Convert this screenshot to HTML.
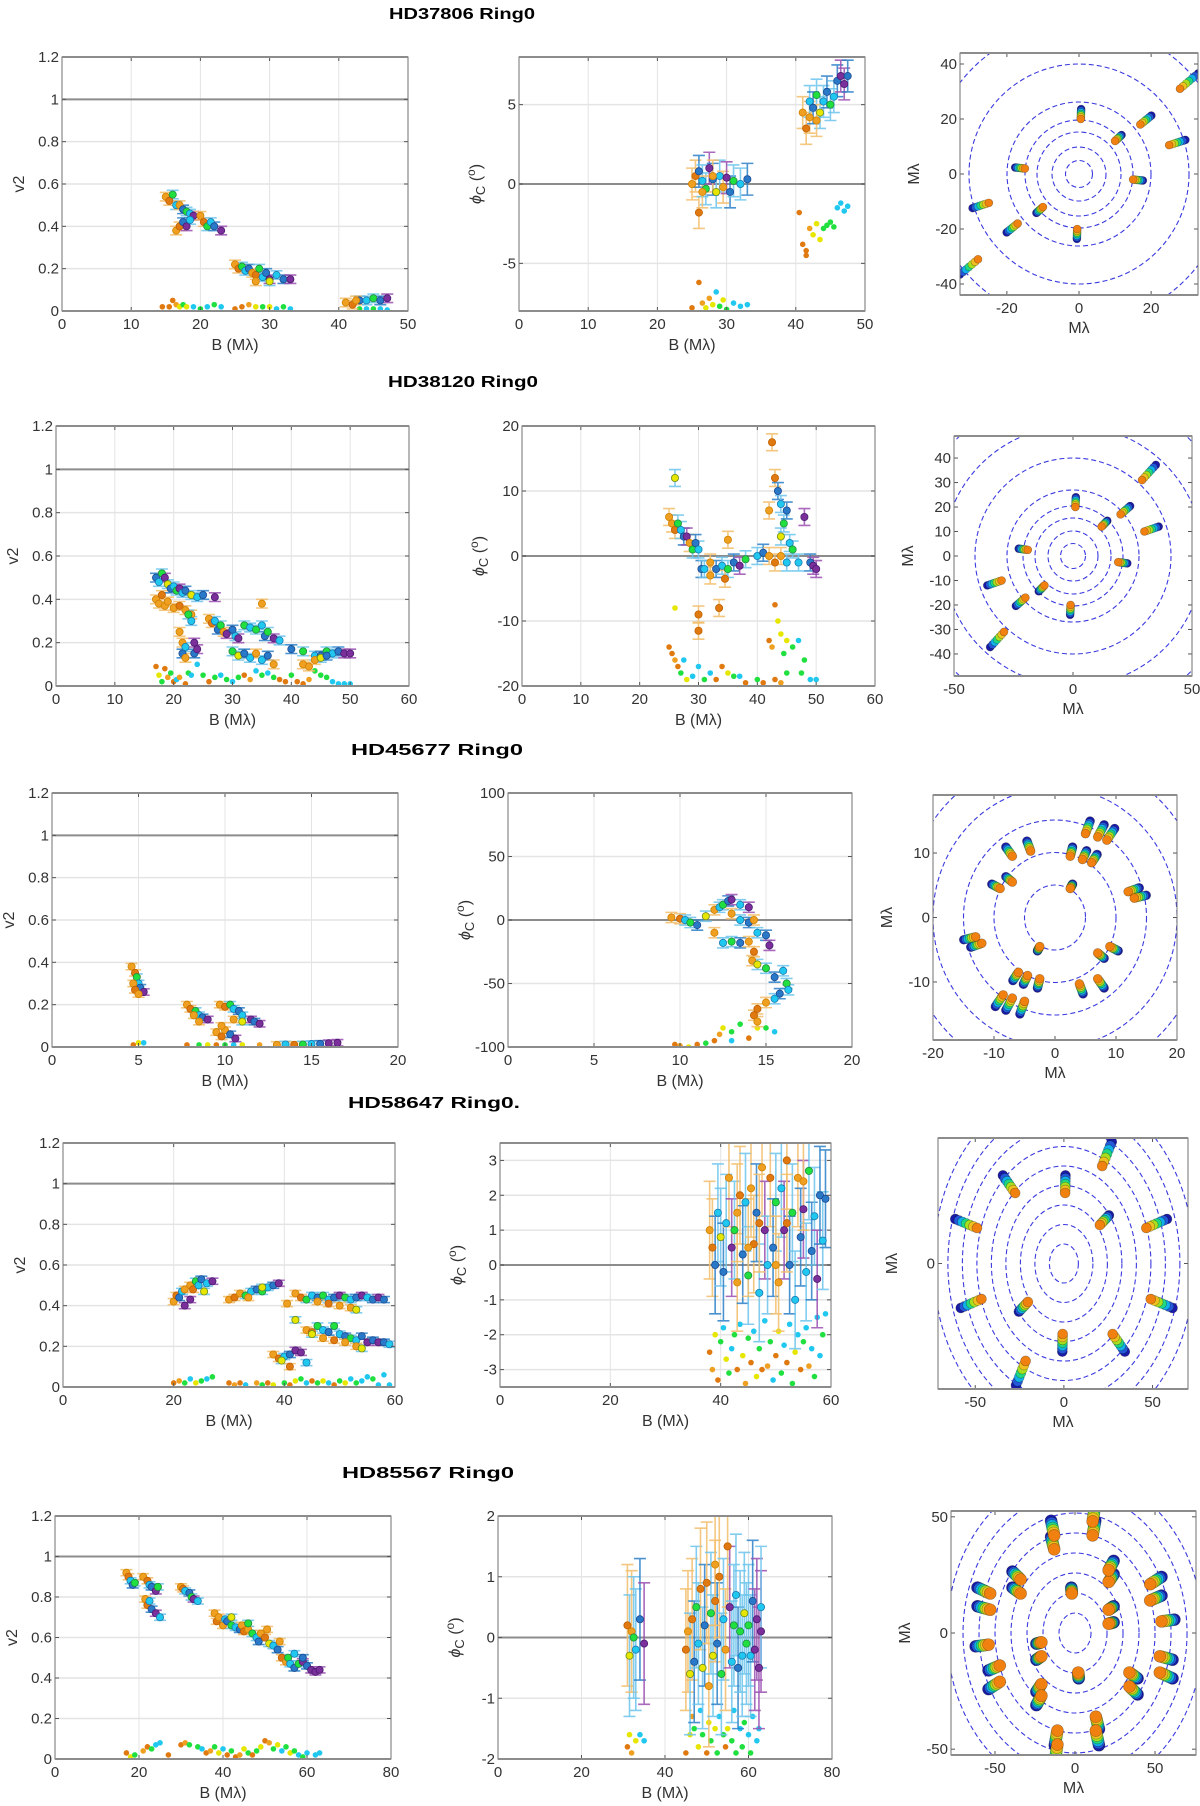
<!DOCTYPE html>
<html><head><meta charset="utf-8"><title>Interferometry panels</title>
<style>
html,body{margin:0;padding:0;background:#fff;}
svg{display:block;font-family:"Liberation Sans",sans-serif;}
</style></head>
<body>
<svg id="fig" width="1200" height="1806" viewBox="0 0 1200 1806" xmlns="http://www.w3.org/2000/svg"></svg>
<script>
// ---------------- DATA ----------------
// Row 1: HD37806
const r1vB=[15,15.5,16,16.5,17,17.5,18,18.5,19,16.5,17,17.5,18,18.5,20,20.5,21,21.5,22,23,25,25.5,26,26.5,27,27.5,28,28.5,29,29.5,30,31,32,33,28,30,41,42,43,44,45,46,47,42.5];
const r1vY=[.54,.52,.55,.5,.5,.48,.47,.46,.45,.38,.4,.42,.4,.43,.45,.42,.4,.42,.4,.38,.22,.2,.21,.19,.2,.18,.17,.2,.16,.18,.15,.17,.15,.15,.14,.14,.04,.03,.05,.05,.06,.05,.06,.05];
const r1vC=[1,0,3,4,1,5,3,4,6,1,0,5,6,4,1,0,3,4,5,6,1,0,3,4,5,1,0,3,4,5,6,4,5,6,1,2,1,0,5,4,3,5,6,1];
const r1vdB=[14.5,15.5,16,16.5,17,17.5,18,19,20,21,22,23,25,26,27,28,29,30,31,32,33,43,44,45,46,47];
const r1vdY=[.02,.02,.05,.03,.02,.03,.02,.02,.01,.02,.03,.02,.01,.02,.03,.02,.02,.02,.01,.02,.01,.01,.01,.01,.01,.005];
const r1vdC=[0,0,0,1,2,3,2,4,3,4,3,4,0,0,1,2,3,2,4,3,4,3,4,3,4,4];
const r1cB=[25,25.5,26,26,26.5,27,27.5,28,28.5,29,29.5,30,30.5,31,32,33,26.5,28,41,41.5,42,42,42.5,43,43.5,44,44.5,45,45.5,46,46.5,47,47.5,43];
const r1cY=[0,.5,-1.8,.8,.2,-.3,1,.3,-.5,.5,-.2,.4,-.5,.2,0,.3,-.5,.5,4.5,3.5,4.2,5.2,4.8,5.6,4.5,5.2,5.8,5,5.5,6.5,6.8,6.3,6.8,4];
const r1cC=[1,0,0,5,4,3,6,5,2,4,1,6,5,3,4,5,1,1,1,0,1,4,5,3,2,4,5,3,4,5,6,6,5,1];
const r1cdB=[40.5,41,41.5,41.5,42,42.5,43,43.5,44,44.5,45,45.5,46,46.5,47,47.5,25,26,26.5,27,27.5,28,28.5,29,29.5,30,31,32,33];
const r1cdY=[-1.8,-3.8,-4.2,-4.5,-2.8,-3.2,-2.5,-3.5,-2.8,-2.6,-2.4,-2.7,-1.5,-1.2,-1.7,-1.4,-7.8,-6.2,-7.5,-7.8,-7.2,-7.6,-6.8,-7.7,-7.3,-7.9,-7.5,-7.7,-7.6];
const r1cdC=[0,0,0,0,1,2,2,2,3,3,3,3,4,4,4,4,0,0,1,2,1,2,4,3,2,3,4,4,4];
const r1uU=[28,0.5,17,10,25,15];
const r1uV=[31,20,18,12,10.5,-2];

// Row 2: HD38120
const r2vB=[17,17.5,18,18.5,19,19.5,20,20.5,21,21.5,22,23,24,25,27,17,17.5,18,18.5,19,20,21,22,23,21,21.5,21.5,22,22,23.5,23.5,24,23,22.5,26,26.5,27,27.5,28,28.5,29,30,30.5,31,32,33,34,35,35.5,36,37,38,40,42,44,45,46,47,48,49,50,30,31,32,33,34,35,36,37,35,42,43,44,45,46];
const r2vY=[.5,.48,.52,.5,.47,.45,.46,.44,.45,.43,.44,.42,.41,.42,.41,.4,.38,.42,.37,.39,.36,.37,.35,.33,.25,.2,.15,.18,.13,.2,.15,.17,.3,.33,.31,.29,.3,.26,.28,.25,.24,.26,.23,.22,.28,.27,.26,.28,.23,.25,.22,.21,.17,.16,.14,.14,.16,.15,.16,.15,.15,.16,.14,.15,.13,.15,.12,.14,.1,.38,.1,.09,.12,.13,.14];
const r2vC=[5,4,3,6,2,5,4,3,6,4,5,2,4,5,6,1,1,0,1,1,1,0,1,1,1,1,5,4,1,6,5,6,4,3,1,0,4,5,3,1,6,5,4,6,3,4,3,4,5,3,6,4,5,3,4,5,3,4,5,6,6,3,2,5,4,1,4,5,1,1,1,1,1,2,5];
const r2vdB=[17,17.5,18,18.5,19,19.5,20,20.5,21,22,22.5,23,24,25,26,27,28,29,30,31,32,33,34,35,36,37,38,39,40,41,42,43,44,45,46,47,48,49,50];
const r2vdY=[.09,.05,.02,.08,.04,.06,.02,.03,.04,.01,.06,.05,.1,.05,.02,.04,.05,.03,.02,.04,.05,.03,.07,.05,.06,.04,.03,.02,.05,.02,.01,.03,.07,.05,.04,.02,.01,.01,.01];
const r2vdC=[0,2,3,0,1,3,0,4,1,0,3,4,4,3,0,3,4,3,4,3,0,1,4,3,4,3,0,0,3,0,0,1,3,3,3,4,4,4,4];
const r2cB=[26,25,25.5,26,26.5,27,27.5,28,28.5,29,29.5,30,30.5,31,32,33,34,35,36,37,38,40,41,42,42.5,43,43.5,44,44,44.5,45,45.5,46,47,48,49,49.5,50,42,43,44,45,30,30,33.5,34.5,35,32];
const r2cY=[12,6,5,4,5,4,3,3,2,1,2,1,-2,-2,-1,-2,-1.5,-2,-1,-1.5,-.5,0,.5,7,17.5,12,10,8,3,5,7,2,1,-1,6,-1,-1.5,-2,0,-1,0,-1,-9,-11.5,-8,-3.5,2.5,-3];
const r2cC=[2,1,1,0,3,4,5,6,1,3,5,4,5,4,1,5,4,3,5,6,3,4,5,1,0,0,5,4,2,3,5,4,3,4,6,5,6,6,1,0,1,4,0,0,0,0,1,1];
const r2cdB=[26,25,25.5,26,26.5,27,27.5,28,29,30,31,32,33,34,35,36,37,38,40,41,42,42.5,43,43.5,44,44.5,45,46,47,47.5,48,49,50,43,44,45];
const r2cdY=[-8,-14,-15,-16,-17,-18,-16,-19,-18.5,-17,-19,-18,-19,-17,-18,-18.5,-18.5,-19.5,-19,-19.5,-13,-14,-7.5,-10,-12,-15,-13,-14,-13,-18,-16,-19,-19,-19,-19.5,-18];
const r2cdC=[2,0,0,1,0,3,4,2,4,4,3,4,0,0,2,3,4,0,3,0,0,1,0,2,2,3,2,3,4,3,3,4,4,0,1,3];
const r2uU=[29,1,20,12,30,19];
const r2uV=[31,20,17,12,10,-2.5];

// Row 3: HD45677
const r3vB=[4.6,4.8,4.9,5.0,5.1,5.3,4.7,4.8,5.0,7.8,8,8.3,8.5,8.7,9,8.2,8.5,9.7,10,10.3,10.5,10.8,11,11.5,11.7,12,10.5,11,9.5,9.8,10,10.3,10.6,9.8,13,13.5,14,14.5,15,15.5,16,16.5];
const r3vY=[.38,.35,.33,.3,.28,.26,.3,.27,.25,.2,.18,.17,.15,.14,.13,.15,.12,.2,.19,.2,.18,.17,.15,.13,.12,.11,.13,.12,.07,.05,.08,.06,.04,.1,.01,.012,.01,.012,.014,.015,.018,.02];
const r3vC=[1,0,3,4,5,6,1,0,1,1,0,3,4,5,6,1,1,1,0,3,4,5,4,6,5,6,1,2,1,0,1,5,6,1,1,4,0,3,4,5,6,6];
const r3vdB=[4.7,5,5.3,7.8,8.5,9,9.5,10,10.5,11,12,13,13.5,14,15,15.5,16];
const r3vdY=[.01,.02,.02,.01,.01,.01,.01,.01,.01,.01,.01,.01,.01,.01,.01,.01,.015];
const r3vdC=[0,2,4,0,3,2,0,3,4,2,1,1,4,0,3,4,4];
const r3cB=[9.5,10,10.3,10.6,11,11.5,12,12.3,12.5,12.8,13,13.5,14,13,13.5,14,14.3,12,12.5,13,13.5,14,14.5,15,15.2,14.3,14.2,14.5,15,15.5,16,16.2,16.3,15.8,15.5,15,14.5,14.3,14.5];
const r3cY=[2,1,0,-2,-4,3,8,10,12,15,16,12,10,5,0,-2,0,-10,-18,-17,-18,-17,-10,-12,-20,-25,-32,-35,-38,-45,-40,-50,-55,-58,-62,-65,-70,-75,-80];
const r3cC=[1,0,4,3,5,2,1,4,3,5,6,4,6,1,4,5,1,1,4,3,5,1,4,5,6,0,1,2,3,5,4,3,4,5,4,1,0,0,1];
const r3cdB=[9.7,10,10.5,11,11.5,12,12.3,12.5,13,13.5,13,14,14.5,15,15.5];
const r3cdY=[-98,-99,-100,-98,-97,-95,-90,-85,-88,-82,-95,-93,-85,-85,-88];
const r3cdC=[0,1,2,0,3,0,1,2,3,3,4,0,2,3,4];
const r3uU=[5,7,8.5,-7,-4,2.5,4.5,6,-9,-7,2.5,12,13];
const r3uV=[13,12.5,12,9.5,10.3,9.5,9,8.5,4.5,5.5,4.5,4,3];

// Row 4: HD58647
const r4vB=[20,20.5,21,21.5,22,23,23.5,24,24.5,25,26,27,22,23,25.5,30,31,32,33,34,35,36,37,38,39,33.5,36,42,43,44,45,46,47,48,49,50,51,52,53,54,55,56,57,58,46,48,50,52,53,40.5,42,44,45,46,47,48,49,50,51,52,53,54,55,56,57,58,59,47,49,51,53,54,45,38,39,40,41,42,43,39.5,41,44];
const r4vY=[.42,.45,.44,.47,.4,.5,.48,.52,.5,.53,.51,.52,.48,.43,.47,.43,.44,.46,.45,.47,.48,.47,.49,.5,.51,.44,.49,.46,.44,.43,.45,.44,.45,.43,.44,.45,.44,.43,.44,.45,.44,.43,.44,.43,.42,.41,.4,.39,.38,.41,.33,.28,.27,.3,.28,.27,.3,.26,.25,.24,.23,.25,.22,.23,.22,.22,.21,.24,.23,.22,.2,.19,.26,.16,.14,.15,.16,.18,.17,.13,.1,.12];
const r4vC=[1,0,5,4,6,1,0,3,4,5,4,6,1,6,2,1,0,1,3,4,5,3,4,5,6,1,2,1,0,3,4,5,3,4,5,6,3,4,5,6,4,5,6,5,1,0,1,1,2,1,2,1,0,3,4,5,3,4,5,3,4,5,6,5,6,5,4,1,0,1,1,2,2,1,0,4,5,6,6,2,0,4];
const r4vdB=[20,21,22,23,24,25,26,27,30,31,32,33,35,36,37,38,40,41,42,43,44,45,46,47,48,49,50,51,52,53,54,55,56,57,58,59];
const r4vdY=[.02,.03,.02,.04,.02,.03,.04,.05,.02,.01,.02,.01,.02,.01,.02,.01,.02,.01,.03,.04,.02,.03,.02,.03,.02,.01,.03,.02,.04,.02,.03,.05,.04,.01,.06,.01];
const r4vdC=[0,1,3,4,2,3,4,3,0,1,0,4,1,3,0,2,3,0,2,3,4,0,3,2,4,0,3,2,4,3,4,4,3,4,4,4];
const r4cB=[38,38.5,39,39.5,40,40.5,41,41.5,42,42.5,43,43.5,44,44.5,45,45.5,46,46.5,47,47.5,48,48.5,49,49.5,50,50.5,51,51.5,52,52.5,53,53.5,54,54.5,55,55.5,56,56.5,57,57.5,58,58.5,59,43,45,47,50,52,55];
const r4cY=[1,.5,0,1.5,.8,-.2,1.2,2.5,.5,1,-.5,2,.3,1.8,-.3,2.2,.6,1.5,-.8,2.8,1,0,2.5,.5,1.8,-.5,2.2,1,3,0,1.5,-1,2.5,.8,1.6,-.2,2.7,.4,1.4,-.4,2,.7,1.9,1.5,.5,1.2,0,1.2,2.4];
const r4cC=[1,0,5,4,2,5,4,1,6,3,1,0,5,4,3,1,0,5,4,1,6,4,0,5,3,1,4,6,0,5,3,4,1,5,6,4,3,5,4,6,5,4,5,1,1,0,1,0,1];
const r4cdB=[38,38.5,39,39.5,40,40.5,41,41.5,42,42.5,43,43.5,44,44.5,45,45.5,46,46.5,47,47.5,48,48.5,49,49.5,50,50.5,51,51.5,52,52.5,53,53.5,54,54.5,55,55.5,56,56.5,57,57.5,58,58.5,59];
const r4cdY=[-2.5,-3,-2,-3.3,-2.2,-1.8,-2.7,-3.1,-2.4,-2,-3,-1.7,-2.6,-3.4,-2.1,-2.8,-1.9,-3.2,-2.4,-3,-1.6,-2.9,-2.2,-3.3,-2.6,-1.9,-3.1,-2.3,-2.8,-1.7,-3.4,-2.5,-2,-3,-2.2,-1.8,-2.9,-2.4,-3.2,-1.5,-2.6,-2,-1.4];
const r4cdC=[0,1,2,0,3,4,2,3,4,3,0,4,2,1,3,0,4,2,3,0,4,1,3,4,0,2,3,4,0,4,3,2,4,0,3,4,1,4,3,4,4,3,4];
const r4uU=[21.6,0.7,-27.5,20.3,46.5,-49];
const r4uV=[46.6,33.7,33.7,18.4,17,17];

// Row 5: HD85567
const r5vB=[17,17.5,18,18.5,19,21,22,22.5,23,24,24.5,21.5,22,22.5,23,24,25,30,30.5,31,32,32.5,33,34,38,38.5,39,40,40.5,41,42,43,44,44.5,45,46,47,48,48.5,49,50,50.5,51,52,53,53.5,54,55,55.5,56,57,58,59,60,61,62,63,57,59,46,42];
const r5vY=[.92,.9,.88,.86,.87,.9,.88,.86,.85,.83,.85,.79,.76,.78,.74,.72,.7,.85,.84,.83,.82,.8,.79,.78,.72,.68,.7,.66,.69,.68,.66,.65,.64,.66,.63,.64,.62,.6,.58,.62,.6,.64,.57,.56,.54,.58,.5,.48,.5,.47,.45,.47,.48,.46,.44,.43,.44,.52,.5,.67,.7];
const r5vC=[1,0,4,5,3,1,0,4,5,6,3,1,0,4,5,6,4,1,0,4,5,3,6,4,1,0,1,1,4,5,3,4,5,1,0,1,3,4,5,1,0,1,2,4,5,1,0,1,3,4,5,3,6,5,6,6,6,4,5,3,2];
const r5vdB=[17,18,19,21,22,23,24,25,27,30,31,32,34,35,36,37,38,39,40,41,42,43,44,45,46,47,48,49,50,51,52,53,54,55,56,57,58,59,60,62,63];
const r5vdY=[.03,.01,.02,.04,.06,.05,.07,.08,.02,.07,.08,.07,.06,.05,.03,.04,.06,.03,.05,.02,.04,.01,.02,.05,.03,.02,.04,.06,.09,.08,.05,.07,.04,.06,.03,.04,.02,.01,.03,.02,.03];
const r5vdC=[0,2,3,1,0,3,4,4,0,0,1,3,3,4,0,1,3,2,4,0,3,0,1,2,3,0,3,2,0,1,3,2,4,3,2,3,4,3,4,4,4];
const r5cB=[31,31.5,32,32.5,33,34,35,45,45.5,46,46.5,47,47.5,48,48.5,49,49.5,50,50.5,51,51.5,52,52.5,53,53.5,54,54.5,55,55.5,56,56.5,57,57.5,58,58.5,59,59.5,60,60.5,61,61.5,62,62.5,63,63,52];
const r5cY=[.2,-.3,.1,0,-.2,.3,-.1,-.2,.1,-.6,.3,-.4,.5,-.1,.8,-.5,.2,.9,-.8,.4,-.3,.6,-.1,1,-.6,.3,-.2,1.5,.5,-.4,.2,.7,-.5,.1,-.3,.4,-.1,.2,-.3,.6,-.2,.3,-.5,.1,.5,1.2];
const r5cC=[0,2,1,3,4,5,6,0,1,2,0,5,3,4,0,2,5,0,1,3,2,0,5,0,3,4,1,0,6,4,3,4,5,3,4,2,3,3,4,5,6,6,6,6,4,1];
const r5cdB=[31,31.5,32,33,34,35,45,46,46.5,47,48,48.5,49,50,50.5,51,52,52.5,53,54,54.5,55,56,56.5,57,58,58.5,59,60,60.5,61,62,62.5];
const r5cdY=[-1.8,-1.6,-1.9,-1.7,-1.6,-1.7,-1.9,-1.6,-1.3,-1.5,-1.8,-1.2,-1.6,-1.9,-1.4,-1.7,-1.5,-1.9,-1.3,-1.6,-1.8,-1.5,-1.7,-1.2,-1.9,-1.5,-1.8,-1.4,-1.6,-1.9,-1.3,-1.7,-1.5];
const r5cdC=[0,2,1,2,4,4,0,2,1,3,2,4,3,0,2,3,2,3,4,3,0,2,3,4,3,4,3,3,4,3,4,4,4];
const r5uU=[11,11,-13,-13,-53,-53,-34,-34,-2,21,21,21,21,47,47,54];
const r5uV=[42,48,36,42,10,17,17,23,17,22,27,4,10,14,21,5];

// tick label arrays
const v2Ticks=[0,0.2,0.4,0.6,0.8,1,1.2];
const r1xT=[0,10,20,30,40,50], r1cT=[-5,0,5], r1uxT=[-20,0,20], r1uyT=[-40,-20,0,20,40];
const r2xT=[0,10,20,30,40,50,60], r2cT=[-20,-10,0,10,20], r2uxT=[-50,0,50], r2uyT=[-40,-30,-20,-10,0,10,20,30,40];
const r3xT=[0,5,10,15,20], r3cT=[-100,-50,0,50,100], r3uxT=[-20,-10,0,10,20], r3uyT=[-10,0,10];
const r4xT=[0,20,40,60], r4cT=[-3,-2,-1,0,1,2,3], r4uxT=[-50,0,50], r4uyT=[0];
const r5xT=[0,20,40,60,80], r5cT=[-2,-1,0,1,2], r5uxT=[-50,0,50], r5uyT=[-50,0,50];
const titles=["HD37806  Ring0","HD38120  Ring0","HD45677  Ring0","HD58647  Ring0.","HD85567  Ring0"];

// ---------------- RENDER ----------------
const NS="http://www.w3.org/2000/svg";
const svg=document.getElementById('fig');
function mk(tag,attrs,parent){const e=document.createElementNS(NS,tag);for(const k in attrs)e.setAttribute(k,attrs[k]);(parent||svg).appendChild(e);return e;}
const COL=['#e07a10','#f0a020','#e6e600','#20e040','#20c8f0','#2a78c8','#7b2f9a'];
const ERR=['#f2bd6a','#f2bd6a','#6cc4ec','#6cc4ec','#6cc4ec','#2a80c8','#9a4fb0'];
const EDGE=['#c06000','#d08000','#6a8a20','#208a40','#1a7ab0','#1a4a90','#4a1a70'];
const UVC=['#1a1aa8','#2458d8','#12b0ea','#20d880','#a8e020','#f0c020','#f08010'];
let clipId=0;

function axes(box,xr,yr,xt,yt,opt){
  const [x0,y0,x1,y1]=box;
  const sx=v=>x0+(v-xr[0])/(xr[1]-xr[0])*(x1-x0);
  const sy=v=>y1-(v-yr[0])/(yr[1]-yr[0])*(y1-y0);
  const g=mk('g',{});
  
  
  mk('rect',{x:x0,y:y0,width:x1-x0,height:y1-y0,fill:'#fff'},g);
  if(opt.grid){
    xt.forEach(t=>{const l=mk('line',{x1:sx(t),x2:sx(t),y1:y0,y2:y1,stroke:'#e4e4e4','stroke-width':1},g);
      
      });
    yt.forEach(t=>{const l=mk('line',{x1:x0,x2:x1,y1:sy(t),y2:sy(t),stroke:'#e4e4e4','stroke-width':1.5},g);
      
      });
  }
  if(opt.ref!==undefined){
    const l=mk('line',{x1:x0,x2:x1,y1:sy(opt.ref),y2:sy(opt.ref),stroke:'#8c8c8c','stroke-width':2},g);
    
    
  }
  const cid='c'+(clipId++);
  const cp=mk('clipPath',{id:cid},g);mk('rect',{x:x0,y:y0,width:x1-x0,height:y1-y0},cp);
  const plot=mk('g',{'clip-path':'url(#'+cid+')'},g);
  
  
  xt.forEach(t=>{
    mk('line',{x1:sx(t),x2:sx(t),y1:y1,y2:y1-4,stroke:'#555'},g);
    mk('line',{x1:sx(t),x2:sx(t),y1:y0,y2:y0+4,stroke:'#555'},g);
    const tx=mk('text',{x:sx(t),y:y1+18,'text-anchor':'middle','font-size':15,fill:'#333'},g);
    tx.textContent=String(t);
    
    
  });
  yt.forEach(t=>{
    mk('line',{x1:x0,x2:x0+4,y1:sy(t),y2:sy(t),stroke:'#555'},g);
    mk('line',{x1:x1,x2:x1-4,y1:sy(t),y2:sy(t),stroke:'#555'},g);
    const tx=mk('text',{x:x0-3,y:sy(t)+5,'text-anchor':'end','font-size':15,fill:'#333'},g);
    tx.textContent=String(t);
    
    
  });
  return {g,plot,sx,sy,box};
}
function frame(A){
  const [x0,y0,x1,y1]=A.box;
  const r=mk('rect',{x:x0,y:y0,width:x1-x0,height:y1-y0,fill:'none',stroke:'#707070','stroke-width':1},A.g);
  
  
  mk('line',{x1:x0,x2:x1,y1:y0,y2:y0,stroke:'#8c8c8c','stroke-width':2},A.g);
  mk('line',{x1:x0,x2:x1,y1:y1,y2:y1,stroke:'#8c8c8c','stroke-width':2},A.g);
}
function xlabel(A,txt,dy){
  const [x0,y0,x1,y1]=A.box;
  const t=mk('text',{x:(x0+x1)/2,y:y1+dy,'text-anchor':'middle','font-size':16,fill:'#333'},A.g);
  t.textContent=txt;
  
  
}
function ylabel(A,txt,dx,phi){
  const [x0,y0,x1,y1]=A.box;const cx=x0-dx,cy=(y0+y1)/2;
  const t=mk('text',{x:cx,y:cy,'text-anchor':'middle','font-size':16,fill:'#333',transform:'rotate(-90 '+cx+' '+cy+')'},A.g);
  
  
  if(phi){
    const a=mk('tspan',{'font-style':'italic'},t);a.textContent='\u03D5';
    const b=mk('tspan',{'font-size':13,dy:4},t);b.textContent='C';
    const c=mk('tspan',{dy:-4},t);c.textContent='  (';
    const d=mk('tspan',{'font-size':12,dy:-6},t);d.textContent='o';
    const e=mk('tspan',{dy:6},t);e.textContent=')';
  } else t.textContent=txt;
}
function scatter(A,B,Y,C,err,dB,dY,dC){
  for(let i=0;i<dB.length;i++){
    const c=mk('circle',{cx:A.sx(dB[i]),cy:A.sy(dY[i]),r:2.8,fill:COL[dC[i]]},A.plot);
    
    
  }
  for(let i=0;i<B.length;i++){
    const x=A.sx(B[i]),ya=A.sy(Y[i]+err),yb=A.sy(Y[i]-err),col=ERR[C[i]];
    const eb=mk('path',{d:`M${x},${ya}V${yb}M${x-6},${ya}H${x+6}M${x-6},${yb}H${x+6}`,stroke:col,'stroke-width':1.6,fill:'none','stroke-opacity':0.85},A.plot);
    
    
  }
  for(let i=0;i<B.length;i++){
    const c=mk('circle',{cx:A.sx(B[i]),cy:A.sy(Y[i]),r:3.6,fill:COL[C[i]],stroke:EDGE[C[i]],'stroke-width':0.8},A.plot);
    
    
  }
}
function rings(A,rx,ry){
  const cx=A.sx(0),cy=A.sy(0);
  for(let i=0;i<rx.length;i++){
    const e=mk('ellipse',{cx,cy,rx:rx[i],ry:ry[i],fill:'none',stroke:'#3a3ae0','stroke-width':1.1,'stroke-dasharray':'5 3'},A.plot);
    
    
  }
}
function uvplot(A,U,V,scale,rad){
  for(let s=0;s<2;s++){
    const sign=s?-1:1;
    for(let i=0;i<U.length;i++){
      for(let k=0;k<7;k++){
        const f=1+(6-k)/6*(scale-1);
        const c=mk('circle',{cx:A.sx(sign*U[i]*f),cy:A.sy(sign*V[i]*f),r:rad,fill:UVC[k],stroke:'rgba(0,0,0,0.35)','stroke-width':0.6},A.plot);
        
        
      }
    }
  }
}
function title(i,x,y,w){
  const t=mk('text',{x,y,'text-anchor':'middle','font-size':16,'font-weight':'bold',fill:'#000',textLength:w,lengthAdjust:'spacingAndGlyphs'});
  t.textContent=titles[i];
  
  
}
function row(L,M,U){
  let A=axes(L.box,L.xr,[0,1.2],L.xt,v2Ticks,{grid:true,ref:1,name:'v2-panel'});
  scatter(A,L.B,L.Y,L.C,L.err,L.dB,L.dY,L.dC);frame(A);xlabel(A,'B (M\u03BB)',39);ylabel(A,'v2',38,false);
  A=axes(M.box,M.xr,M.yr,M.xt,M.yt,{grid:true,ref:0,name:'closure-phase-panel'});
  scatter(A,M.B,M.Y,M.C,M.err,M.dB,M.dY,M.dC);frame(A);xlabel(A,'B (M\u03BB)',39);ylabel(A,'',38,true);
  A=axes(U.box,U.xr,U.yr,U.xt,U.yt,{grid:false,name:'uv-coverage-panel'});
  rings(A,U.rx,U.ry);uvplot(A,U.U,U.V,U.scale,U.rad);frame(A);xlabel(A,'M\u03BB',38);ylabel(A,'M\u03BB',41,false);
}
const K=n=>Array.from({length:n},(_,i)=>i+1);

title(0,462,19,146);
row({box:[62,57,408,311],xr:[0,50],xt:r1xT,B:r1vB,Y:r1vY,C:r1vC,err:.02,dB:r1vdB,dY:r1vdY,dC:r1vdC},
    {box:[519,57,865,311],xr:[0,50],yr:[-8,8],xt:r1xT,yt:r1cT,B:r1cB,Y:r1cY,C:r1cC,err:1.0,dB:r1cdB,dY:r1cdY,dC:r1cdC},
    {box:[960,53,1198,295],xr:[-33,33],yr:[-44,44],xt:r1uxT,yt:r1uyT,U:r1uU,V:r1uV,scale:1.18,rad:4,rx:[13.5,27,42,54,72,110,150],ry:[13.5,27,42,54,72,110,150]});
title(1,463,387,150);
row({box:[56,426,409,686],xr:[0,60],xt:r2xT,B:r2vB,Y:r2vY,C:r2vC,err:.02,dB:r2vdB,dY:r2vdY,dC:r2vdC},
    {box:[522,426,875,686],xr:[0,60],yr:[-20,20],xt:r2xT,yt:r2cT,B:r2cB,Y:r2cY,C:r2cC,err:1.3,dB:r2cdB,dY:r2cdY,dC:r2cdC},
    {box:[954,436,1192,676],xr:[-50,50],yr:[-49,49],xt:r2uxT,yt:r2uyT,U:r2uU,V:r2uV,scale:1.2,rad:4,rx:[12.5,25,38,50,66,98,130,165],ry:[12.5,25,38,50,66,98,130,165]});
title(2,437,755,172);
row({box:[52,793,398,1047],xr:[0,20],xt:r3xT,B:r3vB,Y:r3vY,C:r3vC,err:.015,dB:r3vdB,dY:r3vdY,dC:r3vdC},
    {box:[508,793,852,1047],xr:[0,20],yr:[-100,100],xt:r3xT,yt:r3cT,B:r3cB,Y:r3cY,C:r3cC,err:4,dB:r3cdB,dY:r3cdY,dC:r3cdC},
    {box:[933,795,1177,1040],xr:[-20,20],yr:[-19,19],xt:r3uxT,yt:r3uyT,U:r3uU,V:r3uV,scale:1.15,rad:4.5,rx:[30.5,61,91.5,122,152],ry:[32.5,65,97.5,130,162]});
title(3,434,1108,172);
row({box:[63,1143,395,1387],xr:[0,60],xt:r4xT,B:r4vB,Y:r4vY,C:r4vC,err:.015,dB:r4vdB,dY:r4vdY,dC:r4vdC},
    {box:[500,1143,831,1387],xr:[0,60],yr:[-3.5,3.5],xt:r4xT,yt:r4cT,B:r4cB,Y:r4cY,C:r4cC,err:1.4,dB:r4cdB,dY:r4cdY,dC:r4cdC},
    {box:[938,1138,1188,1389],xr:[-71,70],yr:[-60,60],xt:r4uxT,yt:r4uyT,U:r4uU,V:r4uV,scale:1.25,rad:5,rx:K(9).map(k=>k*14.5),ry:K(9).map(k=>k*19.5)});
title(4,428,1478,172);
row({box:[55,1516,391,1759],xr:[0,80],xt:r5xT,B:r5vB,Y:r5vY,C:r5vC,err:.015,dB:r5vdB,dY:r5vdY,dC:r5vdC},
    {box:[498,1516,832,1759],xr:[0,80],yr:[-2,2],xt:r5xT,yt:r5cT,B:r5cB,Y:r5cY,C:r5cC,err:1.0,dB:r5cdB,dY:r5cdY,dC:r5cdC},
    {box:[951,1511,1196,1755],xr:[-77.5,75.6],yr:[-52.5,52.5],xt:r5uxT,yt:r5uyT,U:r5uU,V:r5uV,scale:1.15,rad:6,rx:K(8).map(k=>k*16),ry:K(8).map(k=>k*20)});
</script>
</body></html>
